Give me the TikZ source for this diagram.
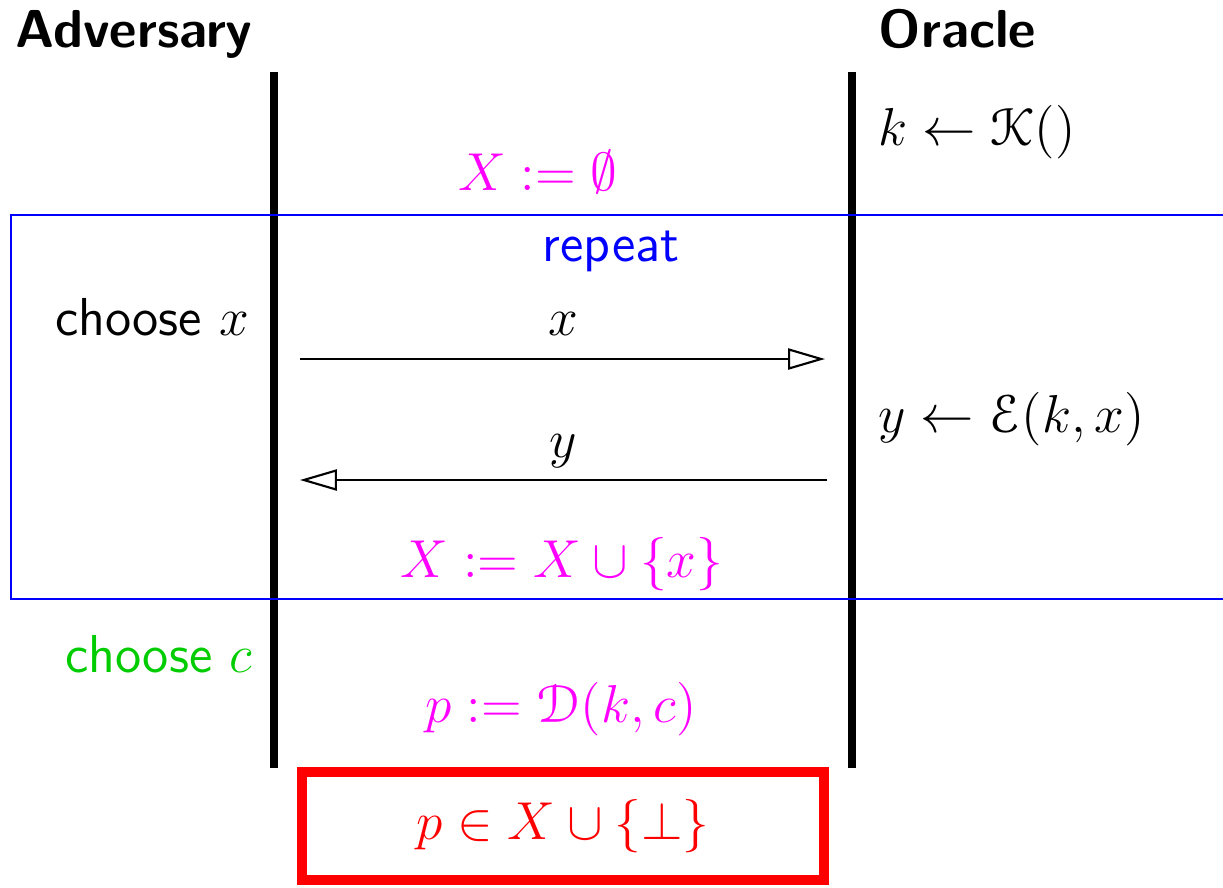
\documentclass[tikz,border=0pt]{standalone}
\usepackage{amsmath, amssymb}
\usepackage[mathcal]{eucal}
\usepackage{xcolor}
\usepackage{tikz}
\usetikzlibrary{positioning, arrows.meta}
\definecolor{mag}{RGB}{255,0,255}

\begin{document}
\begin{tikzpicture}[
    x=0.00947cm, y=-0.00947cm,
    party/.style={inner sep=0pt, anchor=base west, font=\fontsize{14.4}{17}\selectfont\sffamily\bfseries},
    txt/.style={inner sep=0pt, anchor=base, font=\fontsize{14.4}{17}\selectfont\sffamily},
    lbl/.style={inner sep=0pt, anchor=base, font=\fontsize{14.4}{17}\selectfont},
    lifeline/.style={line width=0.085cm, black},
    msg/.style={-{Triangle[open, length=0.35cm, width=0.2cm]}, line width=0.57pt},
    loopbox/.style={draw=blue, line width=0.71pt},
    winbox/.style={draw=red, line width=0.095cm, minimum width=4.943cm, minimum height=1.023cm, inner sep=0pt, font=\fontsize{14.4}{17}\selectfont, text=red},
]
\clip (0,0) rectangle (1223,887);
% parties
\node[party] (adv) at (15,47) {Adversary};
\node[party] (orc) at (878,47) {Oracle};
\coordinate (advtop) at (274,72); \coordinate (advbot) at (274,768);
\coordinate (orctop) at (852,72); \coordinate (orcbot) at (852,768);
\draw[lifeline] (advtop) -- (advbot);
\draw[lifeline] (orctop) -- (orcbot);
% setup
\node[txt, anchor=base west] (keygen) at (878,145) {$k \leftarrow \mathcal{K}()$};
\node[txt, text=mag] (init) at (538,190) {$X := \emptyset$};
% repeat loop
\draw[loopbox] (11,215) rectangle (1260,599);
\node[txt, text=blue] (rep) at (611,261) {repeat};
\node[txt, anchor=base east] (choosex) at (250,335) {choose $x$};
\coordinate (q1) at (300,359); \coordinate (q2) at (825,359);
\draw[msg] (q1) -- (q2);
\node[lbl] (lx) at (563,335) {$x$};
\node[txt, anchor=base west] (enc) at (878,432) {$y \leftarrow \mathcal{E}(k,x)$};
\coordinate (r1) at (827,480); \coordinate (r2) at (300,480);
\draw[msg] (r1) -- (r2);
\node[lbl] (ly) at (563,457) {$y$};
\node[txt, text=mag] (upd) at (562,577) {$X := X \cup \{x\}$};
% challenge
\node[txt, anchor=base east, text=green!80!black] (choosec) at (253,672) {choose $c$};
\node[txt, text=mag] (dec) at (561,722) {$p := \mathcal{D}(k,c)$};
\node[winbox] (win) at (563,826) {$p \in X \cup \{\bot\}$};
\end{tikzpicture}
\end{document}
